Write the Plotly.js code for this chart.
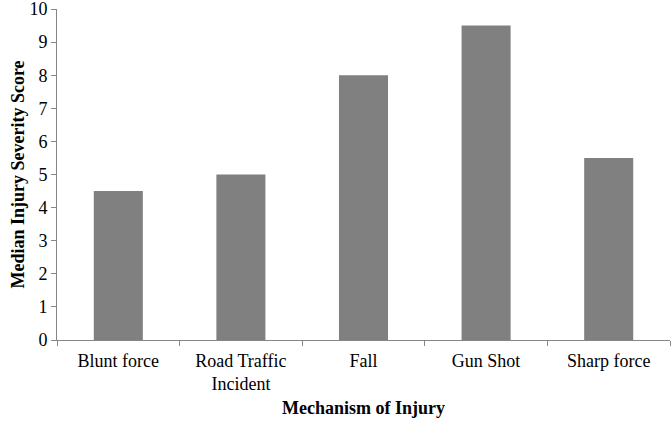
<!DOCTYPE html>
<html>
<head>
<meta charset="utf-8">
<script src="https://cdn.plot.ly/plotly-3.0.1.min.js"></script>
<style>
  html, body { margin: 0; padding: 0; background: #fff; }
  #chart { width: 671px; height: 421px; }
</style>
</head>
<body>
<div id="chart"></div>
<script>
// data
const mechanisms = ['Blunt force', 'Road Traffic<br>Incident', 'Fall', 'Gun Shot', 'Sharp force'];
const medianScores = [4.5, 5, 8, 9.5, 5.5];

const serif = "'Liberation Serif', 'Times New Roman', serif";

let barTrace = {
    x: mechanisms,
    y: medianScores,
    type: 'bar',
    marker: {color: '#808080'},
    hoverinfo: 'x+y'
};

let layout = {
    width: 671,
    height: 421,
    margin: {l: 57, r: 1, t: 9, b: 81},
    paper_bgcolor: '#fff',
    plot_bgcolor: '#fff',
    bargap: 0.6,
    showlegend: false,
    font: {family: serif, size: 18, color: '#000'},
    xaxis: {
        type: 'category',
        tickson: 'boundaries',
        ticks: 'outside',
        ticklen: 5,
        tickcolor: '#868686',
        ticklabelstandoff: 4,
        showline: true,
        linecolor: '#868686',
        linewidth: 1,
        showgrid: false,
        zeroline: false,
        tickfont: {family: serif, size: 18},
        title: {text: '<b>Mechanism of Injury</b>', font: {family: serif, size: 18}, standoff: 8}
    },
    yaxis: {
        range: [0, 10],
        dtick: 1,
        ticks: 'outside',
        ticklen: 5,
        tickcolor: '#868686',
        ticklabeloverflow: 'allow',
        showline: true,
        linecolor: '#868686',
        linewidth: 1,
        showgrid: false,
        zeroline: false,
        tickfont: {family: serif, size: 18},
        title: {text: '<b>Median Injury Severity Score</b>', font: {family: serif, size: 18}, standoff: 0}
    }
};

Plotly.newPlot('chart', [barTrace], layout, {displayModeBar: false, staticPlot: true});
</script>
</body>
</html>
